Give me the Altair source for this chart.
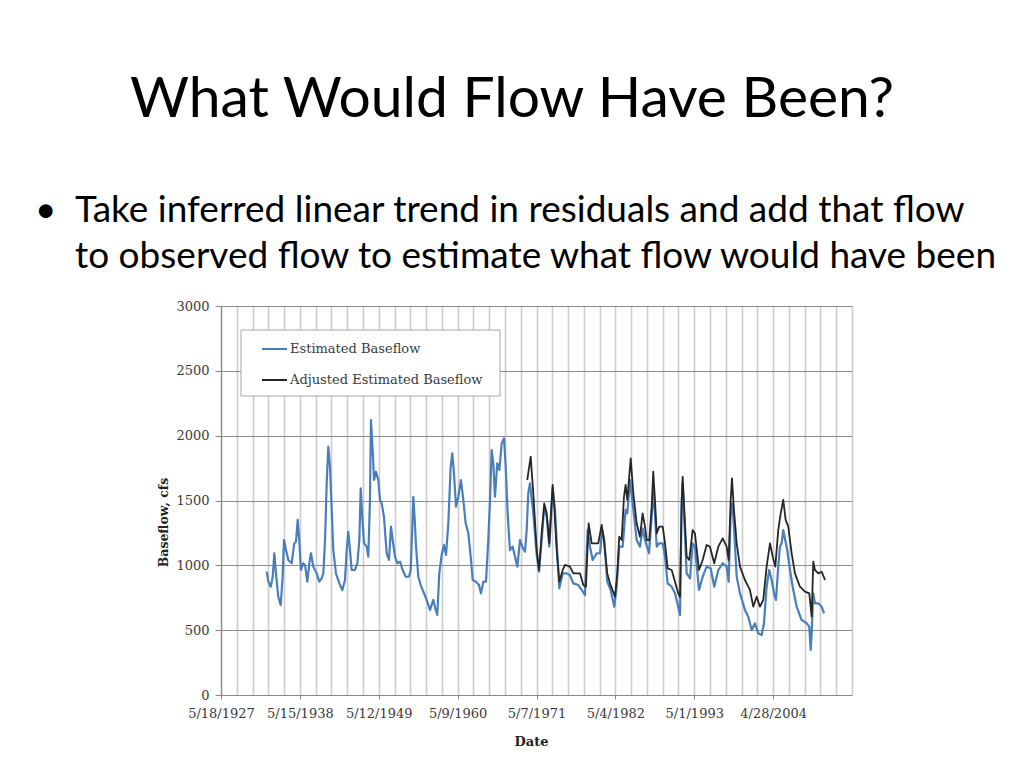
import altair as alt
import pandas as pd

# ---- data (decimal year, cfs) ----
blue_year = [1933.75, 1933.98, 1934.31, 1934.59, 1934.81, 1935.04, 1935.36, 1935.70, 1935.97, 1936.16,
             1936.44, 1936.76, 1937.23, 1937.59, 1937.83, 1938.07, 1938.29, 1938.52, 1938.85, 1939.09,
             1939.41, 1939.69, 1939.92, 1940.24, 1940.71, 1941.08, 1941.42, 1941.64, 1941.88, 1942.11,
             1942.33, 1942.57, 1942.81, 1943.03, 1943.40, 1943.87, 1944.29, 1944.66, 1944.90, 1945.12,
             1945.36, 1945.59, 1946.05, 1946.38, 1946.66, 1946.85, 1947.07, 1947.31, 1947.68, 1947.91,
             1948.14, 1948.28, 1948.52, 1948.71, 1948.98, 1949.30, 1949.54, 1949.78, 1950.09, 1950.47,
             1950.79, 1951.07, 1951.31, 1951.63, 1951.95, 1952.33, 1952.70, 1953.12, 1953.57, 1953.82,
             1954.04, 1954.18, 1954.38, 1954.56, 1954.88, 1955.21, 1955.67, 1956.04, 1956.51, 1956.97,
             1957.30, 1957.52, 1957.80, 1958.13, 1958.45, 1958.74, 1959.06, 1959.39, 1959.61, 1959.85,
             1960.13, 1960.45, 1960.82, 1961.15, 1961.48, 1961.85, 1962.18, 1962.46, 1962.91, 1963.33,
             1963.61, 1963.94, 1964.31, 1964.63, 1964.87, 1965.10, 1965.33, 1965.56, 1965.88, 1966.17,
             1966.50, 1966.82, 1967.06, 1967.33, 1967.65, 1968.03, 1968.35, 1968.68, 1969.05, 1969.37,
             1969.75, 1969.98, 1970.20, 1970.44, 1970.90, 1971.38, 1971.70, 1972.07, 1972.43, 1972.77,
             1973.13, 1973.60, 1973.93, 1974.25, 1974.53, 1975.00, 1975.55, 1976.01, 1976.48, 1977.17,
             1977.65, 1978.10, 1978.48, 1978.81, 1979.18, 1979.74, 1980.20, 1980.51, 1980.79, 1981.21,
             1981.69, 1982.19, 1982.52, 1982.88, 1983.36, 1983.77, 1984.00, 1984.38, 1984.75, 1985.31,
             1985.77, 1986.14, 1986.47, 1987.03, 1987.40, 1987.62, 1987.86, 1988.10, 1988.46, 1988.94,
             1989.26, 1989.63, 1990.19, 1990.65, 1991.10, 1991.35, 1991.58, 1991.72, 1991.95, 1992.28,
             1992.74, 1993.11, 1993.43, 1994.00, 1994.51, 1995.06, 1995.62, 1996.12, 1996.69, 1997.30,
             1997.85, 1998.13, 1998.41, 1998.63, 1998.87, 1999.25, 1999.71, 2000.40, 2000.86, 2001.34,
             2001.80, 2002.26, 2002.73, 2003.05, 2003.42, 2003.78, 2004.13, 2004.45, 2004.72, 2005.04,
             2005.28, 2005.51, 2005.74, 2006.01, 2006.29, 2006.68, 2007.05, 2007.61, 2008.30, 2009.01,
             2009.37, 2009.56, 2009.70, 2009.92, 2010.16, 2010.62, 2011.09, 2011.42]
blue_cfs = [951, 874, 835, 912, 1093, 938, 758, 694, 912, 1195,
            1118, 1041, 1016, 1170, 1182, 1350, 1195, 964, 1016, 1003,
            874, 1016, 1093, 990, 938, 874, 900, 938, 1195, 1633,
            1915, 1761, 1427, 1118, 938, 861, 810, 887, 1118, 1259,
            1118, 964, 964, 1016, 1195, 1594, 1375, 1170, 1144, 1067,
            1504, 2121, 1889, 1658, 1722, 1658, 1504, 1478, 1375, 1093,
            1041, 1298, 1195, 1067, 1016, 1028, 964, 912, 912, 964,
            1298, 1529, 1350, 1144, 912, 848, 784, 733, 656, 733,
            656, 617, 938, 1080, 1157, 1080, 1324, 1761, 1864, 1710,
            1452, 1529, 1658, 1504, 1324, 1247, 1067, 887, 874, 848,
            784, 874, 874, 1195, 1504, 1889, 1787, 1529, 1787, 1735,
            1941, 1979, 1761, 1401, 1118, 1144, 1067, 990, 1195, 1144,
            1105, 1272, 1556, 1633, 1400, 1080, 951, 1195, 1452, 1375,
            1144, 1594, 1427, 1093, 823, 938, 938, 925, 861, 848,
            810, 771, 1272, 1144, 1041, 1093, 1093, 1272, 1195, 874,
            810, 681, 835, 1144, 1144, 1427, 1401, 1658, 1478, 1195,
            1144, 1285, 1195, 1093, 1375, 1568, 1401, 1144, 1170, 1170,
            1067, 861, 835, 784, 681, 617, 1452, 1633, 1350, 938,
            900, 1170, 1144, 810, 912, 990, 977, 835, 964, 1016,
            990, 874, 1401, 1478, 1298, 912, 784, 656, 604, 501,
            553, 476, 463, 553, 835, 964, 887, 784, 733, 990,
            1144, 1170, 1272, 1195, 1118, 964, 835, 681, 578, 553,
            527, 347, 476, 784, 707, 707, 681, 630]

adj_year = [1970.06, 1970.54, 1970.90, 1971.38, 1971.70, 1972.07, 1972.43, 1972.77, 1973.13, 1973.60,
            1973.83, 1974.16, 1974.53, 1975.00, 1975.32, 1976.01, 1976.48, 1977.41, 1977.87, 1978.24,
            1978.62, 1979.04, 1979.50, 1979.96, 1980.43, 1980.75, 1981.21, 1981.59, 1982.29, 1982.61,
            1982.88, 1983.22, 1983.54, 1983.77, 1984.00, 1984.48, 1984.84, 1985.31, 1985.77, 1986.14,
            1986.47, 1986.71, 1987.07, 1987.40, 1987.62, 1987.86, 1988.10, 1988.46, 1988.94, 1989.26,
            1989.63, 1990.19, 1990.65, 1991.10, 1991.35, 1991.58, 1991.72, 1991.95, 1992.28, 1992.64,
            1993.11, 1993.43, 1994.00, 1994.51, 1995.06, 1995.52, 1996.12, 1996.69, 1997.30, 1997.85,
            1998.13, 1998.41, 1998.59, 1998.87, 1999.25, 1999.71, 2000.40, 2001.10, 2001.56, 2002.04,
            2002.49, 2002.95, 2003.42, 2003.89, 2004.27, 2004.63, 2005.04, 2005.38, 2005.74, 2006.07,
            2006.44, 2006.91, 2007.37, 2008.07, 2008.76, 2009.37, 2009.70, 2009.92, 2010.16, 2010.62,
            2011.09, 2011.56]
adj_cfs = [1658, 1838, 1556, 1118, 964, 1247, 1478, 1401, 1170, 1620,
           1452, 1118, 874, 964, 1003, 990, 938, 938, 848, 835,
           1324, 1170, 1170, 1170, 1311, 1195, 938, 861, 758, 938,
           1221, 1195, 1529, 1620, 1504, 1825, 1556, 1324, 1221, 1401,
           1298, 1195, 1195, 1452, 1722, 1504, 1247, 1298, 1298, 1170,
           977, 964, 874, 784, 758, 1504, 1684, 1427, 1067, 1041,
           1272, 1247, 964, 1041, 1157, 1144, 1016, 1144, 1208, 1144,
           1041, 1504, 1671, 1427, 1170, 990, 887, 810, 681, 758,
           681, 733, 990, 1170, 1067, 990, 1272, 1401, 1504, 1350,
           1298, 1093, 938, 835, 797, 784, 604, 1028, 964, 938,
           951, 887]

series_names = ["Estimated Baseflow", "Adjusted Estimated Baseflow"]
series_colors = ["#4a7ebb", "#262626"]
y_ticks = [0, 500, 1000, 1500, 2000, 2500, 3000]

title_text = "What Would Flow Have Been?"
bullet_lines = ["Take inferred linear trend in residuals and add that flow",
                "to observed flow to estimate what flow would have been"]

# Excel date axis: serial numbers, first label 5/18/1927 (= 10000), labels every 4015 days
X_MIN, X_MAJOR, X_MINOR, X_MAX = 10000, 4015, 803, 42120


def to_serial(years):
    return [10000 + (y - 1927.38) * 365.25 for y in years]


df = pd.concat([
    pd.DataFrame({"serial": to_serial(blue_year), "cfs": blue_cfs, "series": series_names[0]}),
    pd.DataFrame({"serial": to_serial(adj_year), "cfs": adj_cfs, "series": series_names[1]}),
], ignore_index=True)

W, H = 631, 389
SERIF = "DejaVu Serif"
SANS = "Lato"
TXT = "#3a3a3a"
MAJOR = f"(datum.value - {X_MIN}) % {X_MAJOR} === 0 && datum.value < {X_MAX}"

x_scale = alt.Scale(domain=[X_MIN, X_MAX], nice=False, zero=False)
y_scale = alt.Scale(domain=[0, 3000], nice=False)

x_axis = alt.Axis(
    values=list(range(X_MIN, X_MAX + 1, X_MINOR)),
    labelExpr=MAJOR + " ? utcFormat((datum.value - 25569) * 86400000, '%-m/%-d/%Y') : ''",
    labelOverlap=False, labelFlush=False, labelBound=False,
    grid=True, gridColor="#cdcdcd", gridWidth=1.6,
    domainColor="#8a8a8a", domainWidth=1.2,
    tickColor="#8a8a8a", tickSize=4,
    tickOpacity={"condition": {"test": MAJOR, "value": 1}, "value": 0},
    labelFont=SERIF, labelFontSize=13, labelColor=TXT, labelPadding=8,
    title="Date", titleFont=SERIF, titleFontSize=13, titleFontWeight="bold", titleColor="#222",
    titleX=310, titleY=40, titleBaseline="top",
)
y_axis = alt.Axis(
    values=y_ticks, format="d", labelFlush=False,
    grid=True, gridColor="#8c8c8c", gridWidth=1.2,
    domainColor="#8a8a8a", domainWidth=1.2,
    tickColor="#8a8a8a", tickSize=6,
    labelFont=SERIF, labelFontSize=13, labelColor=TXT, labelPadding=6,
    title="Baseflow, cfs", titleFont=SERIF, titleFontSize=12.5, titleFontWeight="bold", titleColor="#222",
    titleX=-51, titleY=216, titleAngle=270, titleAlign="center", titleBaseline="bottom",
)

base = alt.Chart(df)
blue = base.transform_filter(alt.datum.series == series_names[0]).mark_line(
    color=series_colors[0], strokeWidth=2.2, strokeJoin="round"
).encode(
    x=alt.X("serial:Q", scale=x_scale, axis=x_axis),
    y=alt.Y("cfs:Q", scale=y_scale, axis=y_axis),
)
black = base.transform_filter(alt.datum.series == series_names[1]).mark_line(
    color=series_colors[1], strokeWidth=1.8, strokeJoin="round"
).encode(
    x=alt.X("serial:Q", scale=x_scale, axis=x_axis),
    y=alt.Y("cfs:Q", scale=y_scale, axis=y_axis),
)

one = pd.DataFrame({"k": [0]})

# legend box (drawn like the Excel legend inside the plot)
leg_box = alt.Chart(one).mark_rect(fill="white", stroke="#a6a6a6", strokeWidth=1).encode(
    x=alt.value(20), x2=alt.value(279), y=alt.value(24), y2=alt.value(90))
leg_lines = []
leg_texts = []
for i, (nm, col) in enumerate(zip(series_names, series_colors)):
    yy = 43 + 31 * i
    leg_lines.append(alt.Chart(one).mark_rule(color=col, strokeWidth=2).encode(
        x=alt.value(41), x2=alt.value(66), y=alt.value(yy)))
    leg_texts.append(alt.Chart(pd.DataFrame({"t": [nm]})).mark_text(
        font=SERIF, fontSize=13, color=TXT, align="left", baseline="middle").encode(
        x=alt.value(69), y=alt.value(yy), text="t:N"))

title_layer = alt.Chart(pd.DataFrame({"t": [title_text]})).mark_text(
    font=SANS, fontSize=57, color="#000", align="center", baseline="alphabetic").encode(
    x=alt.value(291), y=alt.value(-189), text="t:N")
bullet_dot = alt.Chart(pd.DataFrame({"t": ["•"]})).mark_text(
    font=SANS, fontSize=37, color="#000", align="left", baseline="alphabetic").encode(
    x=alt.value(-186), y=alt.value(-84), text="t:N")
bullet_layers = [
    alt.Chart(pd.DataFrame({"t": [ln]})).mark_text(
        font=SANS, fontSize=37, color="#000", align="left", baseline="alphabetic").encode(
        x=alt.value(-146), y=alt.value(-84 + 46 * i), text="t:N")
    for i, ln in enumerate(bullet_lines)
]

chart = alt.layer(
    blue, black, leg_box, *leg_lines, *leg_texts, title_layer, bullet_dot, *bullet_layers
).properties(
    width=W, height=H,
    autosize=alt.AutoSizeParams(type="none"),
    padding={"left": 213, "top": 298, "right": 164, "bottom": 60},
    background="white",
).configure_view(stroke=None)

chart.save("out.html", embed_options={"renderer": "svg", "actions": False})
